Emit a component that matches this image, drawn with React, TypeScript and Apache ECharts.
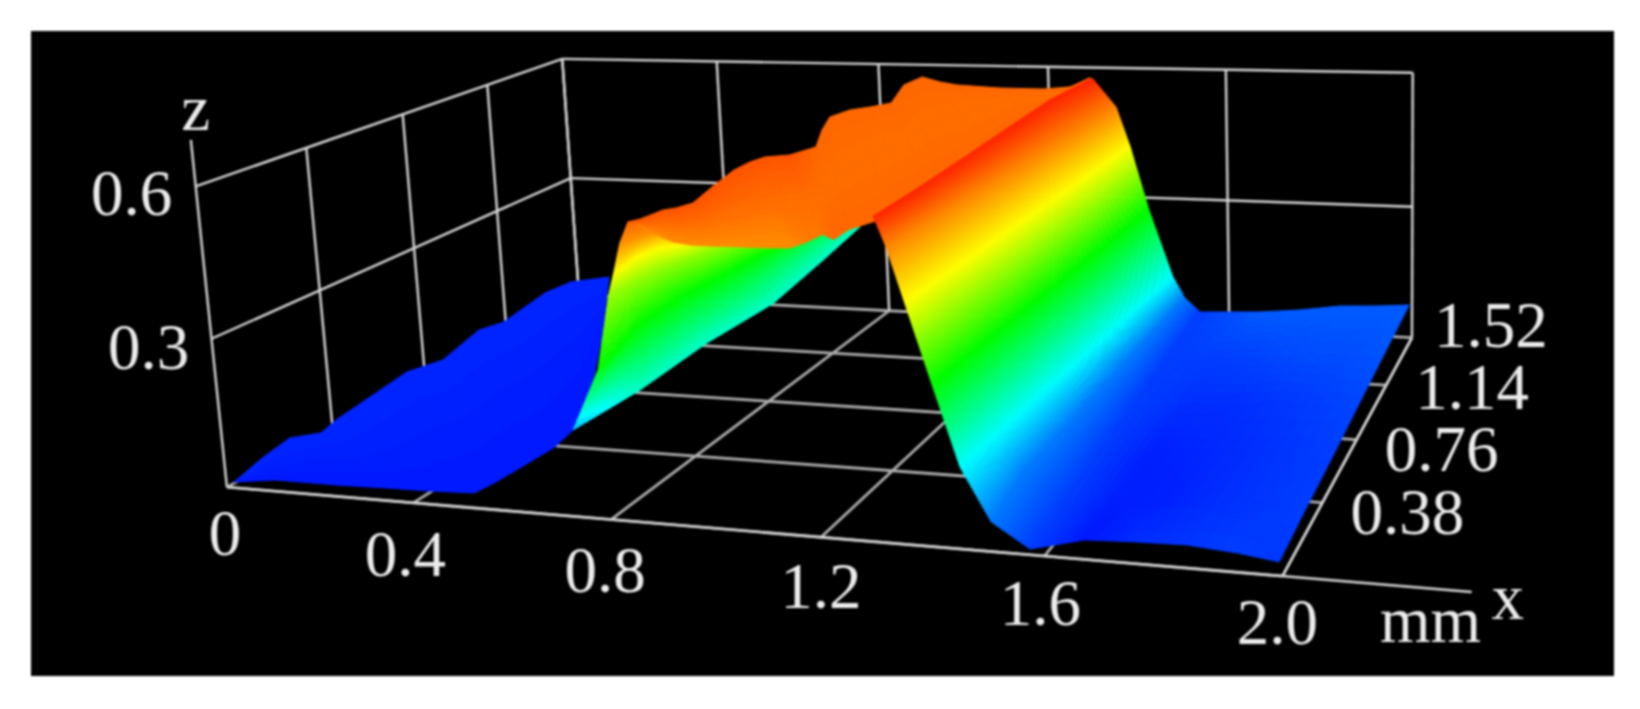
import React, { useEffect, useRef } from "react";
import * as echarts from "echarts";

// tick labels
const xTicks = [0, 0.4, 0.8, 1.2, 1.6, 2.0];
const xTickLabels = ["0", "0.4", "0.8", "1.2", "1.6", "2.0"];
const yTicks = [0, 0.38, 0.76, 1.14, 1.52];
const yTickLabels = ["", "0.38", "0.76", "1.14", "1.52"];
const zTicks = [0, 0.3, 0.6];
const zTickLabels = ["", "0.3", "0.6"];
const xAxisEnd = 2.3;
const zAxisEnd = 0.69;

// surface readings, [x, y, z] in micrometres; one array per part of the relief
const leftPlain = [
  [[41,-34,25],[23,-8,15]],[[10,109,25],[94,21,15]],[[-9,238,25],[226,21,15]],[[35,282,25],[331,27,15]],
  [[17,369,25],[419,30,15]],[[-22,723,25],[506,39,15]],[[8,828,25],[515,100,15]],[[-37,1079,25],[521,213,15]],
  [[-14,1157,25],[526,330,15]],[[-46,1431,25],[511,441,15]],[[-33,1547,25],[442,663,15]],[[39,1613,25],[231,1171,15]],
];
const leftWall = [
  [[667,138,120],[870,-150,333],[834,-19,430],[895,-117,500],[940,-179,570],[941,-144,600]],
  [[796,163,200],[809,154,333],[832,104,430],[882,5,500],[953,-126,570],[961,-127,600]],
  [[787,493,200],[800,354,333],[837,209,430],[890,71,500],[965,-73,570],[984,-97,600]],
  [[799,817,200],[811,490,333],[854,292,430],[921,117,500],[990,-16,570],[1019,-65,600]],
  [[764,1204,200],[819,676,333],[878,408,430],[938,229,500],[1020,43,570],[1054,-32,600]],
  [[730,1541,200],[838,847,333],[924,532,430],[957,375,500],[1058,119,570],[1096,29,600]],
];
const plateau = [
  [[966,-195,612],[949,-139,595],[927,-70,575]],[[976,-171,612],[973,-146,595],[964,-110,575]],
  [[985,-98,612],[1013,-143,595],[1034,-174,575]],[[1000,-79,612],[1040,-142,595],[1071,-189,575]],
  [[1013,-37,612],[1064,-123,595],[1107,-190,575]],[[992,95,612],[1082,-61,595],[1159,-188,575]],
  [[972,244,612],[1102,7,595],[1210,-186,575]],[[972,320,612],[1121,43,595],[1243,-180,575]],
  [[982,369,612],[1141,67,595],[1270,-175,585]],[[1021,394,612],[1165,100,595],[1283,-137,590]],
  [[1019,535,600],[1179,158,595],[1330,-210,600]],[[967,707,600],[1156,273,595],[1329,-137,600]],
  [[931,848,600],[1139,400,595],[1349,-74,600]],[[944,932,600],[1146,483,595],[1351,6,600]],
  [[974,971,600],[1153,564,595],[1343,111,600]],[[1002,1023,600],[1165,648,595],[1343,215,600]],
  [[954,1246,600],[1148,785,595],[1347,287,600]],[[960,1354,600],[1154,887,595],[1354,381,600]],
  [[1021,1293,600],[1187,920,595],[1368,478,600]],[[1070,1259,600],[1197,1021,595],[1350,679,600]],
  [[1175,1231,600],[1237,1110,595],[1334,863,600]],[[1272,1230,600],[1290,1191,595],[1345,1016,600]],
  [[1321,1261,600],[1318,1290,595],[1354,1177,600]],[[1333,1380,600],[1325,1409,595],[1356,1294,600]],
];
const rightWall = [
  [[1403,-223,645],[1402,-166,580],[1447,-216,500],[1454,-118,333],[1473,-47,167],[1530,-67,80],[1598,-76,40],[1656,54,15],[1752,25,30],[1840,17,35],[1931,-15,40],[2000,-27,35]],
  [[1404,-20,645],[1410,46,580],[1453,-1,500],[1459,103,333],[1481,175,167],[1510,202,80],[1589,171,40],[1659,287,20],[1744,300,20],[1835,283,30],[1924,254,35],[1998,219,40]],
  [[1401,238,645],[1418,279,580],[1460,235,500],[1465,346,333],[1489,419,167],[1511,468,80],[1578,446,40],[1658,560,20],[1746,562,25],[1832,565,30],[1919,539,35],[1994,510,40]],
  [[1396,527,645],[1428,537,580],[1467,496,500],[1472,615,333],[1499,688,167],[1511,763,80],[1567,755,40],[1664,834,30],[1747,856,30],[1833,866,35],[1917,845,40],[1991,824,45]],
  [[1391,852,645],[1438,822,580],[1476,787,500],[1480,915,333],[1509,986,167],[1512,1095,80],[1554,1104,40],[1669,1142,40],[1755,1152,45],[1839,1172,50],[1917,1176,50],[1990,1165,55]],
  [[1406,1121,645],[1450,1141,580],[1485,1113,500],[1488,1251,333],[1521,1320,167],[1512,1470,80],[1539,1502,40],[1682,1454,60],[1763,1488,60],[1842,1539,60],[1916,1554,60],[1986,1577,60]],
];
const patches = [leftPlain, leftWall, plateau, rightWall];

// perspective camera of the 3D box: (x, y, z in mm) -> page pixels
const CAMERA = [
  [436.79569, 341.79482, -60.640737, 226.91983],
  [3.6214873, -70.411589, -509.51752, 487.12372],
  [-0.070945388, 0.19029433, -0.043968406, 1],
];
function project(x: number, y: number, z: number): number[] {
  const w = CAMERA[2][0] * x + CAMERA[2][1] * y + CAMERA[2][2] * z + CAMERA[2][3];
  return [
    (CAMERA[0][0] * x + CAMERA[0][1] * y + CAMERA[0][2] * z + CAMERA[0][3]) / w,
    (CAMERA[1][0] * x + CAMERA[1][1] * y + CAMERA[1][2] * z + CAMERA[1][3]) / w,
  ];
}

// rainbow colour scale, height in mm -> colour
const scaleZ = [0, 0.167, 0.333, 0.5, 0.667];
const scaleRGB = [[0, 0, 255], [0, 255, 255], [0, 255, 0], [255, 255, 0], [255, 0, 0]];
function colorOf(z: number): string {
  let i = 0;
  while (i < scaleZ.length - 2 && z > scaleZ[i + 1]) i++;
  const t = Math.max(0, Math.min(1, (z - scaleZ[i]) / (scaleZ[i + 1] - scaleZ[i])));
  const c = scaleRGB[i].map((v, k) => Math.round(v + (scaleRGB[i + 1][k] - v) * t));
  return `rgb(${c[0]},${c[1]},${c[2]})`;
}

const LINE_WALL = "#d8d8d8";
const LINE_FLOOR = "#b0b0b0";
const TEXT = "#ececec";
const FONT = '65px "Liberation Serif"';

type Seg = number[];
const yMax = yTicks[yTicks.length - 1];
const xMax = xTicks[xTicks.length - 1];
const zMax = zTicks[zTicks.length - 1];
const floorSegs: Seg[] = [];
const wallSegs: Seg[] = [];
xTicks.forEach((x) => {
  floorSegs.push([x, 0, 0, x, yMax, 0]);
  wallSegs.push([x, yMax, 0, x, yMax, zMax]);
});
yTicks.forEach((y) => {
  floorSegs.push([0, y, 0, xMax, y, 0]);
  if (y > 0) wallSegs.push([0, y, 0, 0, y, zMax]);
});
zTicks.slice(1).forEach((z) => {
  wallSegs.push([0, 0, z, 0, yMax, z]);
  wallSegs.push([0, yMax, z, xMax, yMax, z]);
});
const axisSegs: Seg[] = [
  [0, 0, 0, xAxisEnd, 0, 0],
  [0, 0, 0, 0, 0, zAxisEnd],
  [xMax, 0, 0, xMax, yMax, 0],
];

type Lab = { text: string; pos: number[]; dx: number; dy: number };
const labels: Lab[] = [];
const xOff = [[-2, 46], [-8, 51], [-6, 50], [0, 49], [-4, 47], [-5, 46]];
xTickLabels.forEach((t, i) => labels.push({ text: t, pos: [xTicks[i], 0, 0], dx: xOff[i][0], dy: xOff[i][1] }));
const yOff = [[0, 0], [85, 9], [85, 9], [86, 2], [79, -13]];
yTickLabels.forEach((t, i) => { if (t) labels.push({ text: t, pos: [xMax, yTicks[i], 0], dx: yOff[i][0], dy: yOff[i][1] }); });
const zOff = [[0, 0], [-63, 8], [-64, 7]];
zTickLabels.forEach((t, i) => { if (t) labels.push({ text: t, pos: [0, 0, zTicks[i]], dx: zOff[i][0], dy: zOff[i][1] }); });
labels.push({ text: "z", pos: [0, 0, zMax], dx: 0, dy: -78 });
labels.push({ text: "x", pos: [xAxisEnd, 0, 0], dx: 36, dy: 5 });
labels.push({ text: "mm", pos: [xMax, 0, 0], dx: 148, dy: 44 });

const cells: number[][] = [];
patches.forEach((p, k) => {
  for (let r = 0; r < p.length - 1; r++) for (let c = 0; c < p[0].length - 1; c++) cells.push([k, r, c]);
});

function lerp3(a: number[], b: number[], t: number) {
  return [a[0] + (b[0] - a[0]) * t, a[1] + (b[1] - a[1]) * t, a[2] + (b[2] - a[2]) * t];
}

function buildOption() {
  const segSeries = (segs: Seg[], color: string, width: number) => ({
    type: "custom",
    silent: true,
    coordinateSystem: "cartesian2d",
    data: segs,
    renderItem: (_: any, api: any) => {
      const v = [0, 1, 2, 3, 4, 5].map((i) => api.value(i));
      const a = api.coord(project(v[0], v[1], v[2]));
      const b = api.coord(project(v[3], v[4], v[5]));
      return { type: "line", shape: { x1: a[0], y1: a[1], x2: b[0], y2: b[1] }, style: { stroke: color, lineWidth: width } };
    },
  });
  return {
    animation: false,
    grid: { left: 31, top: 31, width: 1583, height: 645, show: true, backgroundColor: "#000", borderWidth: 0 },
    xAxis: { type: "value", min: 31, max: 1614, show: false },
    yAxis: { type: "value", min: 31, max: 676, inverse: true, show: false },
    series: [
      segSeries(floorSegs, LINE_FLOOR, 2.8),
      segSeries(wallSegs, LINE_WALL, 2.4),
      segSeries(axisSegs, LINE_WALL, 2.4),
      {
        type: "custom",
        silent: true,
        coordinateSystem: "cartesian2d",
        data: cells,
        renderItem: (_: any, api: any) => {
          const p = patches[api.value(0)];
          const r = api.value(1);
          const c = api.value(2);
          const n00 = p[r][c], n01 = p[r][c + 1], n10 = p[r + 1][c], n11 = p[r + 1][c + 1];
          const nc = Math.ceil(Math.max(Math.abs(n00[2] - n01[2]), Math.abs(n10[2] - n11[2])) / 4) + 1;
          const nr = Math.ceil(Math.max(Math.abs(n00[2] - n10[2]), Math.abs(n01[2] - n11[2])) / 4) + 1;
          const pt = (i: number, j: number) => lerp3(lerp3(n00, n01, j / nc), lerp3(n10, n11, j / nc), i / nr);
          const children: any[] = [];
          for (let i = 0; i < nr; i++) for (let j = 0; j < nc; j++) {
            const q = [pt(i, j), pt(i, j + 1), pt(i + 1, j + 1), pt(i + 1, j)];
            const zm = (q[0][2] + q[1][2] + q[2][2] + q[3][2]) / 4 / 1000;
            const col = colorOf(zm);
            const pts = q.map((n) => api.coord(project(n[0] / 1000, n[1] / 1000, n[2] / 1000)));
            children.push({ type: "polygon", shape: { points: pts }, style: { fill: col, stroke: col, lineWidth: 1 } });
          }
          return { type: "group", children };
        },
      },
      {
        type: "custom",
        silent: true,
        coordinateSystem: "cartesian2d",
        data: labels.map((_, i) => [i]),
        renderItem: (_: any, api: any) => {
          const l = labels[api.value(0)];
          const a = api.coord(project(l.pos[0], l.pos[1], l.pos[2]));
          return {
            type: "text",
            style: { text: l.text, x: a[0] + l.dx, y: a[1] + l.dy, fill: TEXT, font: FONT, align: "center", verticalAlign: "middle" },
          };
        },
      },
    ],
  };
}

export default function App() {
  const ref = useRef<HTMLDivElement>(null);
  useEffect(() => {
    document.body.style.margin = "0";
    const chart = echarts.init(ref.current!, undefined, { renderer: "svg" });
    chart.setOption(buildOption() as any);
    return () => chart.dispose();
  }, []);
  return <div ref={ref} style={{ width: 1640, height: 709, background: "#fff", filter: "blur(1px)" }} />;
}
